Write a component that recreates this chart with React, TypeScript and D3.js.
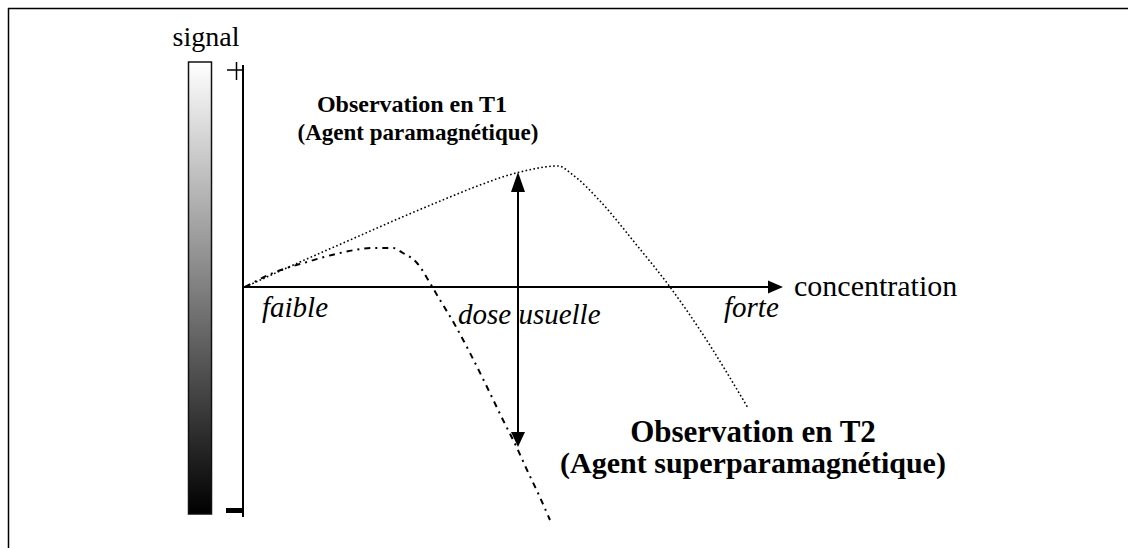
import React from "react";
import * as d3 from "d3";

// concentration (arbitrary units) vs signal (arbitrary units), 0 = axis crossing
const t1Conc = [2, 57, 107, 157, 207, 237, 277, 315, 330, 357, 392, 427, 457, 505];
const t1Signal = [0, 25, 47, 69, 90, 102, 115, 121, 112, 86, 44, 0, -43, -121];

const t2Conc = [2, 30, 64, 97, 130, 150, 160, 174, 187, 194, 212, 227, 244, 260, 274, 284, 295, 307];
const t2Signal = [0, 14, 25, 34, 39, 39, 34, 24, 4, -8, -38, -66, -100, -133, -161, -183, -206, -233];

const doseUsuelle = 275;
const arrowTop = 115;
const arrowBottom = -160;

const levelLabels = ["faible", "dose usuelle", "forte"];
const levelConc = [19, 215, 481];

const W = 1128;
const H = 548;

const App = () => {
  // scales
  const x = d3.scaleLinear().domain([0, 530]).range([243, 773]);
  const y = d3.scaleLinear().domain([-230, 225]).range([517, 62]);

  const line = d3
    .line<[number, number]>()
    .x((d) => x(d[0]))
    .y((d) => y(d[1]))
    .curve(d3.curveMonotoneX);

  const t1 = t1Conc.map((c, i) => [c, t1Signal[i]] as [number, number]);
  const t2 = t2Conc.map((c, i) => [c, t2Signal[i]] as [number, number]);

  const ax = x(0);
  const ay = y(0);
  const dx = x(doseUsuelle);
  const yTop = y(arrowTop);
  const yBot = y(arrowBottom);

  return (
    <svg
      width={W}
      height={H}
      style={{ position: "absolute", left: 0, top: 0 }}
      fontFamily="'Liberation Serif', 'Times New Roman', serif"
    >
      <defs>
        <linearGradient id="grad" x1="0" y1="0" x2="0" y2="1">
          <stop offset="0%" stopColor="#ffffff" />
          <stop offset="100%" stopColor="#000000" />
        </linearGradient>
      </defs>
      <rect width={W} height={H} fill="#fff" />
      {/* frame */}
      <line x1={8} y1={8.5} x2={W} y2={8.5} stroke="#000" strokeWidth={1.5} />
      <line x1={8.5} y1={8} x2={8.5} y2={H} stroke="#000" strokeWidth={1.5} />

      {/* signal scale bar */}
      <text x={206} y={46} fontSize={28} textAnchor="middle">signal</text>
      <rect x={188.5} y={62} width={23} height={452} fill="url(#grad)" stroke="#111" strokeWidth={1.5} />
      <line x1={ax} y1={y(222)} x2={ax} y2={y(-230)} stroke="#000" strokeWidth={2} />
      <line x1={227} y1={70} x2={242} y2={70} stroke="#000" strokeWidth={1.5} />
      <line x1={236.5} y1={62} x2={236.5} y2={80} stroke="#000" strokeWidth={1.5} />
      <rect x={226} y={508} width={16} height={5} fill="#000" />

      {/* concentration axis */}
      <line x1={ax} y1={ay} x2={768} y2={ay} stroke="#000" strokeWidth={2} />
      <path d={`M768,${ay - 6.5}L783,${ay}L768,${ay + 6.5}Z`} fill="#000" />
      <text x={794} y={296} fontSize={30}>concentration</text>

      {levelLabels.map((l, i) => (
        <text key={l} x={x(levelConc[i])} y={i === 1 ? 324 : 317} fontSize={29} fontStyle="italic">
          {l}
        </text>
      ))}

      {/* curves */}
      <path d={line(t1) || ""} fill="none" stroke="#000" strokeWidth={1.6} strokeDasharray="1.6,2.4" />
      <path d={line(t2) || ""} fill="none" stroke="#000" strokeWidth={2} strokeDasharray="6,5,2,5" />

      {/* dose arrow */}
      <line x1={dx} y1={yTop + 18} x2={dx} y2={yBot - 14} stroke="#000" strokeWidth={2} />
      <path d={`M${dx - 7},${yTop + 20}L${dx},${yTop}L${dx + 7},${yTop + 20}Z`} fill="#000" />
      <path d={`M${dx - 7},${yBot - 15}L${dx},${yBot}L${dx + 7},${yBot - 15}Z`} fill="#000" />

      {/* annotations */}
      <g fontWeight="bold" textAnchor="middle">
        <text x={412} y={112} fontSize={24}>Observation en T1</text>
        <text x={418} y={140} fontSize={23}>(Agent paramagnétique)</text>
        <text x={753} y={442} fontSize={31}>Observation en T2</text>
        <text x={753} y={473} fontSize={30}>(Agent superparamagnétique)</text>
      </g>
    </svg>
  );
};

export default App;
